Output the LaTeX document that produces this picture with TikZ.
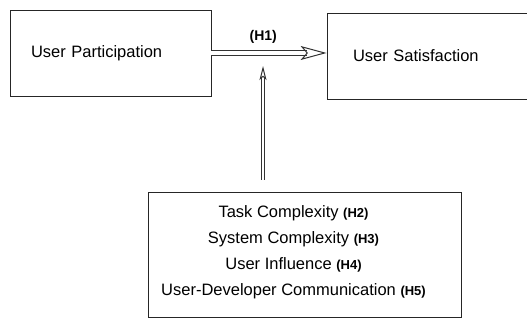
\documentclass[tikz,border=0pt]{standalone}
\usepackage{fontspec}
\setmainfont{Liberation Sans}
\usetikzlibrary{arrows.meta}
\newcommand{\hlab}[1]{{\fontsize{13}{14}\selectfont\bfseries #1}}
\begin{document}
\begin{tikzpicture}[x=1pt,y=1pt,font=\fontsize{16.5}{26}\selectfont]
\tikzstyle{box} = [draw=black!85,line width=0.8pt,rectangle]
\tikzstyle{hollow} = [draw=black!80,line width=1pt,double=white,double distance=3.2pt]
\tikzstyle{hyp} = [font=\fontsize{14}{15}\selectfont\bfseries]
\clip (0,0) rectangle (527,320);
\node[box,minimum height=86,text width=159,inner xsep=21pt,align=left] (up) at (110.5,267) {User Participation};
\node[box,minimum height=86,text width=168,inner xsep=26pt,align=left] (us) at (437,264) {User Satisfaction};
\node[box,minimum width=313,minimum height=125] (factors) at (304.5,65.5) {};
\node[align=center] (factortxt) at ([xshift=-11pt,yshift=2pt]factors.center) {%
Task Complexity \hlab{(H2)}\\
System Complexity \hlab{(H3)}\\
User Influence \hlab{(H4)}\\
User-Developer Communication \hlab{(H5)}};
\coordinate (mid) at (263,267);
\draw[hollow,-{Stealth[open,length=26pt,width=14pt,inset=6pt]}] (up.east) -- node[hyp,above=6pt,pos=0.45] (h1) {(H1)} (up.east -| us.west);
\draw[hollow,double distance=2pt,-{Stealth[open,length=14pt,width=7pt,inset=3pt]},shorten <=12pt,shorten >=13pt] (factors.north -| mid) -- (mid);
\end{tikzpicture}
\end{document}
